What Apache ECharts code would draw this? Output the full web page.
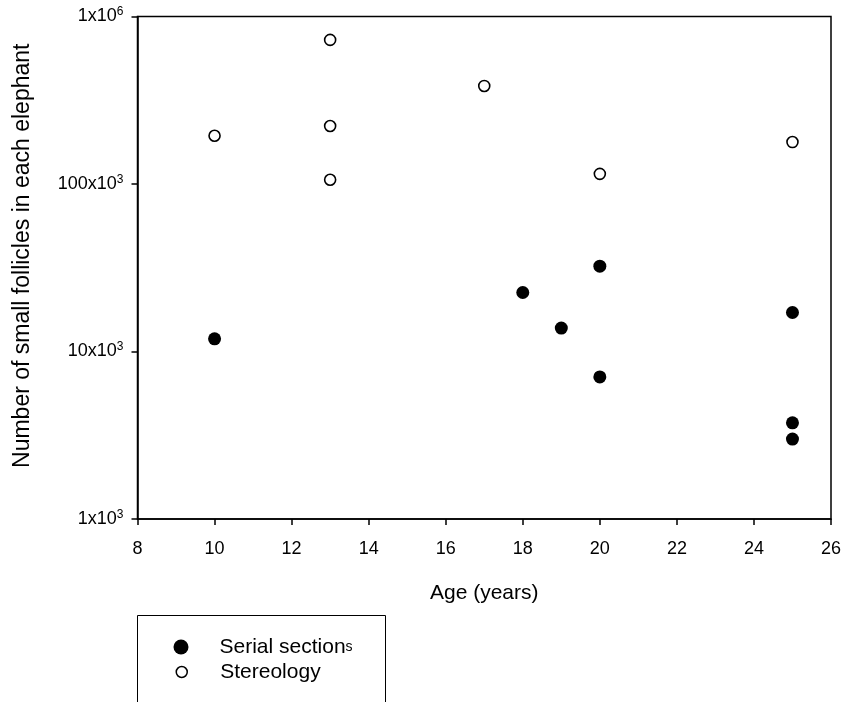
<!DOCTYPE html>
<html>
<head>
<meta charset="utf-8">
<script src="https://cdn.jsdelivr.net/npm/echarts@6/dist/echarts.min.js"></script>
<style>
  html, body { margin: 0; padding: 0; background: #fff; }
  #chart { width: 846px; height: 702px; }
</style>
</head>
<body>
<div id="chart"></div>
<script>
// 数据：年龄（岁）与小卵泡数量
const serialAges = [10, 18, 19, 20, 20, 25, 25, 25];
const serialCounts = [11900, 22500, 13800, 32300, 7050, 17100, 3750, 3000];

const stereoAges = [10, 13, 13, 13, 17, 20, 25];
const stereoCounts = [194000, 725000, 222000, 106000, 385000, 115000, 178000];

// y 轴刻度标签（底数 + 上标）
const yTickLabels = {
  1000: ['1x10', '3'],
  10000: ['10x10', '3'],
  100000: ['100x10', '3'],
  1000000: ['1x10', '6']
};

const FONT = '"Liberation Sans", Arial, sans-serif';

function pairs(xs, ys) {
  return xs.map((x, i) => [x, ys[i]]);
}

// 图例文字样式
function legendText(padLeft) {
  return {
    fontFamily: FONT, fontSize: 21, color: '#000', lineHeight: 24,
    rich: {
      a: { fontSize: 21, color: '#000', fontFamily: FONT, lineHeight: 24, padding: [0, 0, 0, padLeft] },
      b: { fontSize: 14, color: '#000', fontFamily: FONT, lineHeight: 24 }
    }
  };
}

const chart = echarts.init(document.getElementById('chart'));

chart.setOption({
  animation: false,
  backgroundColor: '#fff',
  textStyle: { fontFamily: FONT, color: '#000' },
  grid: {
    left: 137.5, right: 15, top: 16.5, bottom: 183,
    show: true, borderColor: '#000', borderWidth: 1.5
  },
  xAxis: {
    type: 'value',
    min: 8, max: 26, interval: 2,
    name: 'Age (years)',
    nameLocation: 'middle',
    nameGap: 64,
    nameTextStyle: { fontSize: 21, color: '#000', fontFamily: FONT },
    axisLine: { show: true, lineStyle: { color: '#000', width: 1.5 } },
    axisTick: { show: true, inside: false, length: 6, lineStyle: { color: '#000', width: 1.5 } },
    axisLabel: { fontSize: 18, color: '#000', margin: 21, fontFamily: FONT },
    splitLine: { show: false }
  },
  yAxis: {
    type: 'log',
    logBase: 10,
    min: 1000, max: 1000000,
    name: 'Number of small follicles in each elephant',
    nameLocation: 'middle',
    nameGap: 103,
    nameTextStyle: { fontSize: 23, color: '#000', fontFamily: FONT, padding: [0, 0, 0, 24] },
    axisLine: { show: true, lineStyle: { color: '#000', width: 1.5 } },
    axisTick: { show: true, inside: false, length: 6, lineStyle: { color: '#000', width: 1.5 } },
    minorTick: { show: false },
    splitLine: { show: false },
    axisLabel: {
      margin: 14,
      fontFamily: FONT,
      formatter: function (v) {
        const t = yTickLabels[Math.round(v)];
        if (!t) return '';
        return '{n|' + t[0] + '}{s|' + t[1] + '}';
      },
      rich: {
        n: { fontSize: 18, color: '#000', fontFamily: FONT },
        s: { fontSize: 12, color: '#000', fontFamily: FONT, padding: [0, 0, 9, 0] }
      }
    }
  },
  legend: [
    {
      orient: 'vertical',
      left: 173.5, top: 635,
      padding: 0,
      itemWidth: 15, itemHeight: 15,
      textStyle: legendText(26),
      formatter: function () { return '{a|Serial section}{b|s}'; },
      data: [
        { name: 'Serial sections', icon: 'circle', itemStyle: { color: '#000', borderWidth: 0 } }
      ]
    },
    {
      orient: 'vertical',
      left: 175.5, top: 660,
      padding: 0,
      itemWidth: 11, itemHeight: 11,
      textStyle: legendText(28),
      formatter: function (name) { return '{a|' + name + '}'; },
      data: [
        { name: 'Stereology', icon: 'circle', itemStyle: { color: '#fff', borderColor: '#000', borderWidth: 1.5 } }
      ]
    }
  ],
  graphic: [
    {
      type: 'rect',
      shape: { x: 137.5, y: 615.5, width: 248, height: 120 },
      style: { fill: 'none', stroke: '#000', lineWidth: 1 },
      silent: true
    }
  ],
  series: [
    {
      name: 'Serial sections',
      type: 'scatter',
      symbol: 'circle',
      symbolSize: 13,
      itemStyle: { color: '#000', borderWidth: 0, opacity: 1 },
      data: pairs(serialAges, serialCounts)
    },
    {
      name: 'Stereology',
      type: 'scatter',
      symbol: 'circle',
      symbolSize: 11,
      itemStyle: { color: '#fff', borderColor: '#000', borderWidth: 1.6, opacity: 1 },
      data: pairs(stereoAges, stereoCounts)
    }
  ]
});
</script>
</body>
</html>
